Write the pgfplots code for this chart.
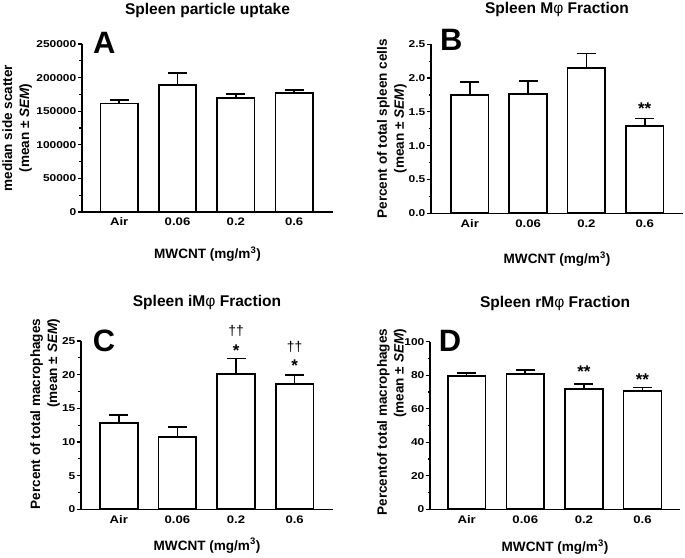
\documentclass[border=0pt]{standalone}
\usepackage{fontspec}
\setmainfont{Liberation Sans}
\newfontfamily\tickfont[FakeStretch=1.2]{Liberation Sans}
\usepackage{pgfplots}
\pgfplotsset{compat=1.18}
\pgfplotsset{
  panel/.style={
    scale only axis,
    axis x line=bottom, axis y line=left,
    axis line style={-, line width=1.5bp, black},
    xtick={0,1,2,3}, xticklabels={Air,0.06,0.2,0.6},
    tick align=outside,
    major tick length=4bp, minor tick length=2.5bp,
    minor y tick num=1,
    tick style={black, line width=1.2bp},
    x tick style={draw=none},
    ymin=0, clip=false,
    /pgf/number format/assume math mode=true,
    yticklabel style={font=\tickfont\bfseries\fontsize{10}{12}\selectfont, inner sep=1.5bp},
    xticklabel style={font=\tickfont\bfseries\fontsize{11}{13}\selectfont, anchor=base, yshift=-10bp},
    xlabel={MWCNT (mg/m\textsuperscript{3})},
    label style={font=\bfseries\fontsize{13.6}{17}\selectfont},
    ybar, bar width=0.645,
  },
  barplot/.style={
    ybar, fill=white, draw=black, line width=1.7bp,
    error bars/.cd, y dir=plus, y explicit,
    error bar style={line width=1.6bp, black},
    error mark options={black, line width=1.6bp, mark size=9.5bp, rotate=90},
  },
}
\tikzset{
  ttl/.style={anchor=base, font=\bfseries\fontsize{15.6}{18}\selectfont},
  letter/.style={anchor=base west, inner sep=0pt, font=\bfseries\fontsize{31}{31}\selectfont},
  star/.style={anchor=base, inner sep=0pt, font=\bfseries\fontsize{17}{17}\selectfont},
  dag/.style={anchor=base, inner sep=0pt, font=\fontsize{14}{14}\selectfont},
}
\begin{document}
\begin{tikzpicture}
\path[use as bounding box] (0,0) rectangle (685bp,558bp);

% Panel A
\begin{axis}[panel, at={(82bp,346bp)}, anchor=south west, width=251bp, height=168bp,
  xmin=-0.638, xmax=3.666, ymax=250000,
  ytick={0,50000,100000,150000,200000,250000}, scaled y ticks=false,
  yticklabel style={/pgf/number format/fixed, /pgf/number format/1000 sep={}},
  ylabel={median side scatter\\(mean ± \textit{SEM})},
  ylabel style={at={(axis description cs:-0.199,0.5)}, anchor=south, inner sep=0pt, align=center},
  xlabel style={at={(axis description cs:0.5,0)}, anchor=base, yshift=-47bp}]
\addplot[barplot] table[row sep=\\, x=x, y=y, y error=e] {
x y e\\
0 161500 5500\\
1 189000 17400\\
2 170100 5500\\
3 177500 4000\\
};
\node[ttl] at (rel axis cs:0.5,1) [yshift=29bp] {Spleen particle uptake};
\node[letter] at (rel axis cs:0.044,0.945) {A};
\end{axis}

% Panel B
\begin{axis}[panel, at={(431bp,344.7bp)}, anchor=south west, width=252bp, height=169bp,
  xmin=-0.666, xmax=3.657, ymax=2.5,
  ytick={0,0.5,1,1.5,2,2.5},
  yticklabel style={/pgf/number format/fixed, /pgf/number format/fixed zerofill, /pgf/number format/precision=1},
  ylabel={Percent of total spleen cells\\(mean ± \textit{SEM})},
  ylabel style={at={(axis description cs:-0.096,0.5)}, anchor=south, inner sep=0pt, align=center},
  xlabel style={at={(axis description cs:0.5,0)}, anchor=base, yshift=-50bp}]
\addplot[barplot] table[row sep=\\, x=x, y=y, y error=e] {
x y e\\
0 1.754 0.19\\
1 1.76 0.197\\
2 2.154 0.21\\
3 1.287 0.113\\
};
\node[ttl] at (rel axis cs:0.5,1) [yshift=31bp] {Spleen M{\mdseries φ} Fraction};
\node[letter] at (rel axis cs:0.035,0.966) {B};
\node[star] at (axis cs:3,1.467) {**};
\end{axis}

% Panel C
\begin{axis}[panel, at={(81bp,48.7bp)}, anchor=south west, width=252bp, height=168.3bp,
  xmin=-0.645, xmax=3.654, ymax=25,
  ytick={0,5,10,15,20,25},
  ylabel={Percent of total macrophages\\(mean ± \textit{SEM})},
  ylabel style={at={(axis description cs:-0.083,0.566)}, anchor=south, inner sep=0pt, align=right},
  xlabel style={at={(axis description cs:0.5,0)}, anchor=base, yshift=-40.7bp}]
\addplot[barplot] table[row sep=\\, x=x, y=y, y error=e] {
x y e\\
0 12.86 1.15\\
1 10.7 1.5\\
2 20.05 2.35\\
3 18.66 1.3\\
};
\node[ttl] at (rel axis cs:0.5,1) [yshift=34bp] {Spleen iM{\mdseries φ} Fraction};
\node[letter] at (rel axis cs:0.046,0.936) {C};
\node[star] at (axis cs:2,22.64) {*};
\node[star] at (axis cs:3,20.45) {*};
\node[dag] at (axis cs:2,25.86) {††};
\node[dag] at (axis cs:3,23.38) {††};
\end{axis}

% Panel D
\begin{axis}[panel, at={(430bp,48.7bp)}, anchor=south west, width=250bp, height=167.6bp,
  xmin=-0.626, xmax=3.64, ymax=100,
  ytick={0,20,40,60,80,100},
  ylabel={Percentof total macrophages\\(mean ± \textit{SEM})},
  ylabel style={at={(axis description cs:-0.093,0.52)}, anchor=south, inner sep=0pt, align=right},
  xlabel style={at={(axis description cs:0.5,0)}, anchor=base, yshift=-42.4bp}]
\addplot[barplot] table[row sep=\\, x=x, y=y, y error=e] {
x y e\\
0 79.7 1.6\\
1 80.7 2.4\\
2 71.96 2.8\\
3 70.6 2.0\\
};
\node[ttl] at (rel axis cs:0.5,1) [yshift=33.7bp] {Spleen rM{\mdseries φ} Fraction};
\node[letter] at (rel axis cs:0.035,0.94) {D};
\node[star] at (axis cs:2,78.7) {**};
\node[star] at (axis cs:3,73.75) {**};
\end{axis}
\end{tikzpicture}
\end{document}
